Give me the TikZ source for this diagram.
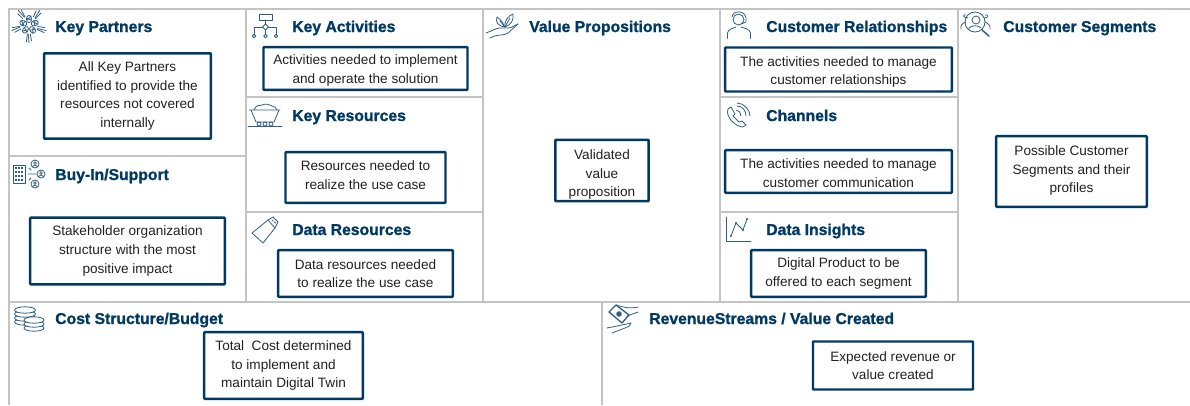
\documentclass[tikz,border=0pt]{standalone}
\usepackage{fontspec}
\setmainfont{Liberation Sans}
\newfontfamily\headfont[FakeBold=1.2]{Liberation Sans Bold}
\definecolor{navy}{HTML}{003A63}
\definecolor{iconblue}{HTML}{2F5F85}
\definecolor{gridgray}{HTML}{C4C4C4}
\definecolor{bodytext}{HTML}{222222}
\newcommand{\down}[1]{\rule{0pt}{#1pt}}
\newcommand{\up}[1]{\rule[-#1pt]{0pt}{0pt}}
\tikzset{
  gridline/.style={draw=gridgray, line width=1.5pt},
  title/.style={anchor=base west, inner sep=0pt, text=navy, font=\fontsize{11.8}{14}\headfont},
  notebox/.style={draw=navy, line width=1.8pt, fill=white, align=center, inner sep=0pt, rounded corners=0.5pt, text=bodytext, font=\fontsize{10.2}{13.9}\selectfont},
  icon/.style={draw=iconblue, line width=0.6pt, line cap=round, line join=round}
}
\begin{document}
\begin{tikzpicture}[x=0.75pt, y=-0.75pt]
\useasboundingbox (0,0) rectangle (1190,405);

% grid
\draw[gridline] (9,405) -- (9,8.5) -- (1190,8.5);
\draw[gridline] (9,301.5) -- (1190,301.5);
\draw[gridline] (246,8) -- (246,301);
\draw[gridline] (483,8) -- (483,301);
\draw[gridline] (720,8) -- (720,301);
\draw[gridline] (957.5,8) -- (957.5,301);
\draw[gridline] (602,301) -- (602,405);
\draw[gridline] (9,156) -- (246,156);
\draw[gridline] (246,97) -- (483,97);
\draw[gridline] (246,212) -- (483,212);
\draw[gridline] (720,97) -- (957,97);
\draw[gridline] (720,212) -- (957,212);

% titles
\node[title] (partners) at (55,32) {Key Partners};
\node[title] (buyin) at (55,180) {Buy-In/Support};
\node[title] (activities) at (292,32) {Key Activities};
\node[title] (resources) at (292,121) {Key Resources};
\node[title] (data) at (292,235) {Data Resources};
\node[title] (value) at (529,32) {Value Propositions};
\node[title] (relations) at (766,32) {Customer Relationships};
\node[title] (channels) at (766,121) {Channels};
\node[title] (insights) at (766,235) {Data Insights};
\node[title] (segments) at (1003,32) {Customer Segments};
\node[title] (cost) at (55,324) {Cost Structure/Budget};
\node[title] (revenue) at (649,324) {RevenueStreams / Value Created};

% boxes
\node[notebox, minimum width=125pt, minimum height=64pt] (partnersbox) at (127.5,96) {All Key Partners\\identified to provide the\\resources not covered\\internally};
\node[notebox, minimum width=146pt, minimum height=50pt] (buyinbox) at (127.5,251) {Stakeholder organization\\structure with the most\\positive impact};
\node[notebox, minimum width=153pt, minimum height=32pt] (activitiesbox) at (365.5,68.5) {\down{10}Activities needed to implement\\and operate the solution};
\node[notebox, minimum width=120pt, minimum height=38pt] (resourcesbox) at (365.5,177.5) {Resources needed to\\realize the use case\up{4}};
\node[notebox, minimum width=131pt, minimum height=35pt] (databox) at (365.5,273.5) {Data resources needed\\to realize the use case};
\node[notebox, minimum width=70pt, minimum height=46pt] (valuebox) at (602,170.5) {\down{14}Validated\\value\\proposition};
\node[notebox, minimum width=170pt, minimum height=33pt] (relationsbox) at (838.5,69.5) {\down{11}The activities needed to manage\\customer relationships};
\node[notebox, minimum width=170pt, minimum height=32pt] (channelsbox) at (838.5,171.5) {\down{10}The activities needed to manage\\customer communication};
\node[notebox, minimum width=131pt, minimum height=35pt] (insightsbox) at (838.5,273.5) {Digital Product to be\\offered to each segment};
\node[notebox, minimum width=113pt, minimum height=53pt] (segmentsbox) at (1071.5,171.5) {Possible Customer\\Segments and their\\profiles\up{3.5}};
\node[notebox, minimum width=119pt, minimum height=50pt] (costbox) at (283.5,365.5) {Total~~Cost determined\\to implement and\\maintain Digital Twin};
\node[notebox, minimum width=120pt, minimum height=36pt] (revenuebox) at (893,365.5) {Expected revenue or\\value created};

% key partners icon
\foreach \a in {18,90,162,234,306} {
  \draw[icon] (29,25) ++(\a:18) -- ++(\a+175:9);
  \draw[icon] (29,25) ++(\a+9:17) -- ++(\a+188:8);
  \draw[icon] (29,25) ++(\a-9:16) -- ++(\a+170:7);
  \draw[icon, rotate around={\a:(29,25)}] (35,25) ellipse (3.6 and 2.6);
  \draw[icon, rotate around={\a:(29,25)}] (34,23.5) -- (38,27) (36,22.5) -- (34,27);
}
% buy-in icon
\draw[icon] (13,183) rectangle (25,165);
\draw[icon, dash pattern=on 1.5pt off 0.7pt, line width=2pt, line cap=butt] (15,168) -- (23,168) (15,172) -- (23,172) (15,176) -- (23,176) (15,180) -- (23,180);
\draw[icon] (28,174) -- (36,174) (29,168) -- (31,170) (29,180) -- (31,178);
\foreach \x/\y in {35/164, 41/174, 35/184} {
  \draw[icon] (\x,\y) circle (4);
  \draw[icon] (\x,\y-1) circle (1.4);
  \draw[icon] (\x-2.5,\y+2.5) .. controls (\x-1.5,\y+0.5) and (\x+1.5,\y+0.5) .. (\x+2.5,\y+2.5);
}
% activities icon
\draw[icon] (259,14.5) rectangle (272,20);
\draw[icon] (265.5,20) -- (265.5,24) (254,35) -- (254,27) -- (262.5,27) (268.5,27) -- (276,27) -- (276,35) (265.5,30) -- (265.5,34);
\draw[icon] (265.5,24) -- (268.5,27) -- (265.5,30) -- (262.5,27) -- cycle;
\draw[icon] (254,36) circle (1.8) (265.5,36) circle (1.8) (276,36) circle (1.8);
% resources icon
\draw[icon] (249,110) -- (280,110) (251,110) -- (256,122) -- (274,122) -- (279,110);
\draw[icon] (254,110) .. controls (256,104) and (260,106) .. (262,105) .. controls (266,103) and (270,105) .. (272,106) .. controls (275,106) and (276,108) .. (277,110);
\draw[icon] (248,126.5) -- (282,126.5);
\draw[icon] (259,124) circle (2) (265,124) circle (2) (271,124) circle (2);
% data icon
\draw[icon] (252,233) -- (268,220) -- (275,228) -- (263,243) -- cycle;
\draw[icon] (268,220) -- (273,217) -- (278,222) -- (275,228);
\draw[icon] (272,220) -- (273,221) (274.5,222) -- (275.5,223);
% value icon
\draw[icon] (486,33) .. controls (492,31) and (496,28) .. (500,28) -- (508,28) .. controls (512,28) and (515,25) .. (518,24);
\draw[icon] (490,38) .. controls (494,36) and (497,35) .. (500,35) .. controls (504,35) and (506,34) .. (508,33) -- (518,24);
\draw[icon] (505,27) .. controls (503,24) and (502,20) .. (497,17) .. controls (495,22) and (498,26) .. (505,27);
\draw[icon] (505,27) .. controls (504,21) and (508,16) .. (513,14) .. controls (514,20) and (511,25) .. (505,27);
\draw[icon] (505,27) -- (500,21) (505,27) -- (510,18);
% relations icon
\draw[icon] (738.5,19.5) circle (5.5);
\draw[icon] (727.5,38.5) -- (727.5,33) .. controls (728,29) and (734,28) .. (736,27) (741,27) .. controls (744,28) and (750,29) .. (750.5,33) -- (750.5,38.5);
\draw[icon] (732,17) .. controls (733,10) and (745,10) .. (746,18) -- (746,22) -- (741,24);
% channels icon
\draw[icon] (728,109) -- (731,107) -- (735,114) -- (733,116) -- (739,122) -- (742,121) -- (746,125) -- (743,127) .. controls (736,127) and (725,117) .. (728,109) -- cycle;
\draw[icon] (736,110) .. controls (739,110) and (741,113) .. (741,116);
\draw[icon] (737,106) .. controls (742,106) and (746,110) .. (746,116);
\draw[icon] (737,103) .. controls (744,103) and (750,110) .. (750,116);
% insights icon
\draw[icon] (726.5,217) -- (726.5,241) -- (751,241);
\draw[icon] (731,236) -- (736,223) -- (743,230) -- (747,219);
\fill[iconblue] (731,236) circle (1.2) (736,223) circle (1.2) (743,230) circle (1.2) (747,219) circle (1.2);
% segments icon
\draw[icon] (976,20) circle (4) (975,22) circle (10);
\draw[icon, line width=1.1pt] (982,30) -- (989,36);
\draw[icon] (961,29) .. controls (960,25) and (963,23) .. (966,22) (990,29) .. controls (991,25) and (987,23) .. (985,22);
\draw[icon] (968,18) .. controls (963,18) and (962,14) .. (966,15) (984,18) .. controls (989,18) and (989,14) .. (985,15);
\draw[icon] (969,30) -- (969,28) .. controls (971,25) and (979,25) .. (981,28);
% cost icon
\foreach \y in {322,318,314,310} \draw[icon, fill=white] (25,\y) ellipse (10.5 and 3.2);
\foreach \y in {328,324,320} \draw[icon, fill=white] (34,\y) ellipse (10 and 3.2);
% revenue icon
\draw[icon, line width=1pt] (609,312) -- (616,305) -- (629,315) -- (622,323) -- cycle;
\fill[iconblue] (619,314) circle (2.8);
\draw[icon] (616,305) .. controls (622,307) and (630,309) .. (638,307) (627,316) -- (638,312);
\draw[icon] (607,328) .. controls (611,327) and (614,327) .. (617,326) -- (631,323) .. controls (631,326) and (628,327) .. (625,328) -- (612,333);
\end{tikzpicture}
\end{document}
